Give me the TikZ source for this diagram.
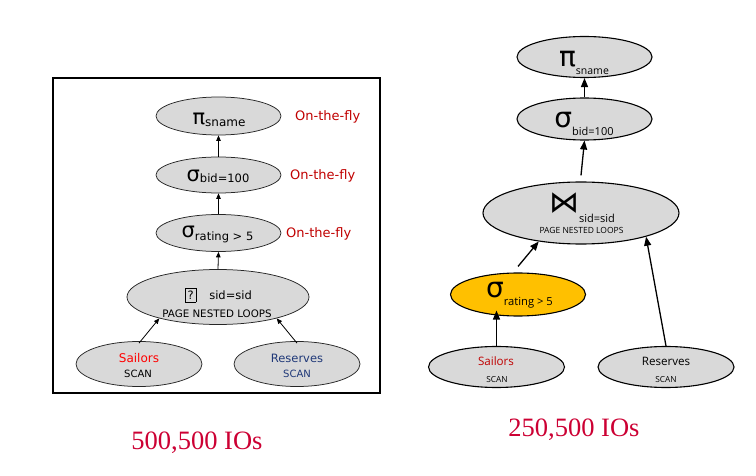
\documentclass[tikz,border=0pt]{standalone}
\usepackage{fontspec}
\usetikzlibrary{shapes.geometric,arrows.meta,calc}
\newfontfamily\dvs{DejaVu Sans}
\newfontfamily\osans{Open Sans}
\newfontfamily\serifx{Liberation Serif}
\newcommand\fsz[1]{\fontsize{#1}{#1}\selectfont}
\definecolor{nodegray}{RGB}{217,217,217}
\definecolor{flyred}{RGB}{192,0,0}
\definecolor{iocrimson}{RGB}{204,0,51}
\definecolor{navyblue}{RGB}{31,56,120}
\definecolor{sailred}{RGB}{255,0,0}
\definecolor{saildark}{RGB}{192,0,0}
\definecolor{orangefill}{RGB}{255,192,0}
\begin{document}
\begin{tikzpicture}[x=1pt,y=-1pt,
  lell/.style={ellipse, draw=black!85, line width=0.75pt, fill=nodegray, inner sep=0pt},
  rell/.style={ellipse, draw=black, line width=1.1pt, fill=nodegray, inner sep=0pt},
  txt/.style={inner sep=0pt, anchor=base},
  larr/.style={-{Triangle[length=5.5pt,width=4.5pt]}, line width=0.8pt},
  rarr/.style={-{Triangle[length=9pt,width=7pt]}, line width=1.3pt},
  fly/.style={inner sep=0pt, anchor=base west, text=flyred, font=\dvs\fsz{13}},
  ios/.style={inner sep=0pt, anchor=base, text=iocrimson, font=\serifx\fsz{26.5}}]
\useasboundingbox (0,0) rectangle (756,476);
\setlength\fboxsep{1.5pt}\setlength\fboxrule{0.6pt}

% ---------- left panel ----------
\draw[line width=2pt] (53,78) rectangle (380,393);

\node[lell, minimum width=125pt, minimum height=38pt] (lpi) at (218.5,116) {};
\node[lell, minimum width=125pt, minimum height=36pt] (lsb) at (218.5,175) {};
\node[lell, minimum width=125pt, minimum height=37pt] (lsr) at (218.5,233) {};
\node[lell, minimum width=182pt, minimum height=55pt] (ljoin) at (218,297) {};
\node[lell, minimum width=126pt, minimum height=45pt] (lsail) at (139,364) {};
\node[lell, minimum width=126pt, minimum height=45pt] (lres) at (297,364) {};

\node[txt] (lpit) at (219,125) {{\dvs\fsz{21}π}\raisebox{-1.5pt}{\dvs\fsz{12}sname}};
\node[txt] (lsbt) at (218,182) {{\dvs\fsz{21}σ}\raisebox{-1pt}{\dvs\fsz{11.5}bid=100}};
\node[txt] (lsrt) at (217.5,238) {{\dvs\fsz{21}σ}\raisebox{-3pt}{\dvs\fsz{11.5}rating > 5}};
\node[txt] (ljt1) at (218.5,299) {\dvs\fsz{11.5}\fbox{\rule[-1.5pt]{0pt}{10.5pt}\makebox[7pt]{?}}\hspace{13pt}sid=sid};
\node[txt] (ljt2) at (217,317) {\dvs\fsz{10.3}PAGE NESTED LOOPS};
\node[txt, text=sailred] (lsat1) at (139,362) {\dvs\fsz{12}Sailors};
\node[txt] (lsat2) at (138,377) {\dvs\fsz{10}SCAN};
\node[txt, text=navyblue] (lret1) at (297,362) {\dvs\fsz{11.5}Reserves};
\node[txt, text=navyblue] (lret2) at (297,377) {\dvs\fsz{10}SCAN};

\node[fly] (fly1) at (295,121) {On-the-fly};
\node[fly] (fly2) at (290,180) {On-the-fly};
\node[fly] (fly3) at (286,238) {On-the-fly};

\draw[larr] (lsb.north) -- (lpi.south);
\draw[larr] (lsr.north) -- (lsb.south);
\draw[larr] (ljoin.north) -- (lsr.south);
\draw[larr] ([yshift=-2pt]lsail.north) -- (ljoin.200);
\draw[larr] ([yshift=-2pt]lres.north) -- (ljoin.340);

% ---------- right panel ----------
\node[rell, minimum width=135pt, minimum height=41pt] (rpi) at (584.5,57) {};
\node[rell, minimum width=135pt, minimum height=42pt] (rsb) at (584.5,119) {};
\node[rell, minimum width=196pt, minimum height=62pt] (rjoin) at (581,213) {};
\node[rell, fill=orangefill, minimum width=135pt, minimum height=43pt] (rsr) at (518,294.5) {};
\node[rell, minimum width=136pt, minimum height=41pt] (rsail) at (496.5,367) {};
\node[rell, minimum width=136pt, minimum height=41pt] (rres) at (666,367) {};

\node[txt] (rpit) at (584,67) {{\dvs\fsz{28}π}\raisebox{-8pt}{\osans\fsz{10.5}sname}};
\node[txt] (rsbt) at (584,128) {{\dvs\fsz{28}σ}\raisebox{-8pt}{\osans\fsz{11}bid=100}};
\node[txt] (rjt1) at (582,213) {{\dvs\fsz{30}⋈}\raisebox{-10pt}{\osans\fsz{11}sid=sid}};
\node[txt] (rjt2) at (581.5,234) {\osans\fsz{8.5}PAGE NESTED LOOPS};
\node[txt] (rsrt) at (519.5,298) {{\dvs\fsz{28}σ}\raisebox{-8pt}{\osans\fsz{11.2}rating > 5}};
\node[txt, text=saildark] (rsat1) at (496,365) {\osans\fsz{11.6}Sailors};
\node[txt] (rsat2) at (497,382) {\osans\fsz{8.3}SCAN};
\node[txt] (rret1) at (666,365) {\osans\fsz{11.6}Reserves};
\node[txt] (rret2) at (666,382) {\osans\fsz{8.3}SCAN};

\draw[rarr] (rsb.north) -- (rpi.south);
\draw[rarr] ([yshift=6pt]rjoin.north) -- (rsb.south);
\draw[rarr] ([yshift=6pt]rsr.north) -- (rjoin.214);
\draw[rarr] (rsail.north) -- ($(rsail.north |- rsr.south)+(0,-6)$);
\draw[rarr] (rres.north) -- (rjoin.340);

% ---------- IO counts ----------
\node[ios] (io1) at (197,449) {500,500 IOs};
\node[ios] (io2) at (574,436) {250,500 IOs};
\end{tikzpicture}
\end{document}
